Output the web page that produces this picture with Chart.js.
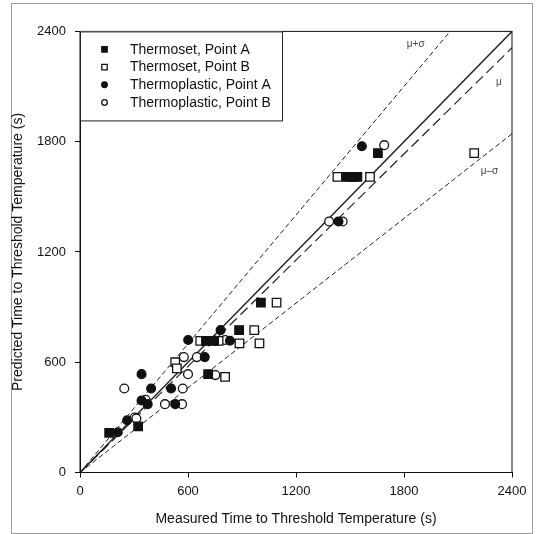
<!DOCTYPE html>
<html>
<head>
<meta charset="utf-8">
<script src="https://cdn.jsdelivr.net/npm/chart.js@4/dist/chart.umd.min.js"></script>
<style>
  html, body { margin: 0; padding: 0; background: #fff; }
  #wrap { width: 537px; height: 534px; position: relative; }
</style>
</head>
<body>
<div id="wrap"><canvas id="chart"></canvas></div>
<script>
// measured vs predicted times (s)
const tsetAx = [162, 323, 700, 745, 712, 884, 1005, 1483, 1512, 1541, 1655];
const tsetAy = [216, 251, 716, 716, 535, 775, 924, 1608, 1608, 1608, 1738];

const tsetBx = [529, 538, 668, 770, 806, 886, 968, 997, 1092, 1430, 1611, 2190];
const tsetBy = [600, 567, 716, 716, 520, 703, 775, 703, 924, 1608, 1608, 1738];

const tplAx = [210, 262, 342, 376, 342, 395, 506, 529, 601, 693, 781, 833, 1436, 1566];
const tplAy = [219, 284, 392, 372, 535, 457, 457, 372, 721, 628, 775, 717, 1366, 1775];

const tplBx = [246, 304, 313, 365, 472, 567, 571, 600, 577, 649, 752, 748, 806, 1384, 1459, 1690];
const tplBy = [457, 299, 294, 396, 372, 372, 457, 535, 628, 628, 530, 718, 721, 1366, 1366, 1781];

// reference lines: y = x, mean fit, mean +/- sigma
const refX = [0, 2400], refY = [0, 2400];
const muX = [0, 2400], muY = [0, 2311];
const upX = [0, 2056], upY = [0, 2400];
const loX = [0, 2400], loY = [0, 1843];

const lineLabels = ['\u03bc+\u03c3', '\u03bc', '\u03bc\u2013\u03c3'];
const lineLabelX = [1865, 2327, 2275];
const lineLabelY = [2329, 2124, 1641];

const xTicks = [0, 600, 1200, 1800, 2400];
const yTicks = [0, 600, 1200, 1800, 2400];

const seriesNames = ['Thermoset, Point A', 'Thermoset, Point B', 'Thermoplastic, Point A', 'Thermoplastic, Point B'];

const pts = (xs, ys) => xs.map((x, i) => ({ x: x, y: ys[i] }));
const FONT = "'Liberation Sans', Arial, sans-serif";

function marker(ctx, style, filled, x, y, r) {
    ctx.save();
    ctx.beginPath();
    if (style === 'rect') ctx.rect(x - r, y - r, 2 * r, 2 * r);
    else ctx.arc(x, y, r, 0, Math.PI * 2);
    ctx.fillStyle = filled ? '#111' : '#fff';
    ctx.fill();
    ctx.lineWidth = 1.3;
    ctx.strokeStyle = '#111';
    ctx.stroke();
    ctx.restore();
}

const decor = {
    id: 'decor',
    beforeDraw(chart) {
        const ctx = chart.ctx;
        ctx.save();
        ctx.strokeStyle = '#999';
        ctx.lineWidth = 1;
        ctx.strokeRect(11.5, 3.5, 521, 530);
        ctx.restore();
    },
    afterDraw(chart) {
        const ctx = chart.ctx, a = chart.chartArea;
        const xs = chart.scales.x, ys = chart.scales.y;
        ctx.save();
        // plot box
        ctx.strokeStyle = '#111';
        ctx.lineWidth = 1;
        ctx.strokeRect(a.left, a.top, a.right - a.left, a.bottom - a.top);

        // line labels
        ctx.fillStyle = '#444';
        ctx.font = '10px ' + FONT;
        ctx.textAlign = 'center';
        ctx.textBaseline = 'middle';
        lineLabels.forEach((t, i) => {
            ctx.fillText(t, xs.getPixelForValue(lineLabelX[i]), ys.getPixelForValue(lineLabelY[i]));
        });

        // legend box
        const lx = a.left, ly = a.top, lw = 202, lh = 89;
        ctx.fillStyle = '#fff';
        ctx.fillRect(lx, ly, lw, lh);
        ctx.strokeStyle = '#222';
        ctx.strokeRect(lx + 0.5, ly + 0.5, lw, lh);
        const styles = [['rect', true], ['rect', false], ['circle', true], ['circle', false]];
        ctx.font = '14px ' + FONT;
        ctx.textAlign = 'left';
        ctx.fillStyle = '#111';
        seriesNames.forEach((n, i) => {
            const yy = ly + 18 + i * 17.7;
            marker(ctx, styles[i][0], styles[i][1], lx + 24.5, yy, styles[i][0] === 'rect' ? 2.7 : 2.8);
            ctx.fillStyle = '#111';
            ctx.fillText(n, lx + 50, yy + 0.5);
        });
        ctx.restore();
    }
};

const lineDs = (xs, ys, dash, w) => ({
    type: 'line', data: pts(xs, ys), borderColor: '#222', borderWidth: w,
    borderDash: dash, pointRadius: 0, fill: false, order: 5
});
const ptDs = (name, xs, ys, style, filled, r) => ({
    label: name, data: pts(xs, ys), pointStyle: style, pointRadius: r, pointHoverRadius: r,
    backgroundColor: filled ? '#111' : '#fff', borderColor: '#111', borderWidth: 1.3, order: 1
});

new Chart(document.getElementById('chart'), {
    type: 'scatter',
    data: {
        datasets: [
            lineDs(refX, refY, [], 1.4),
            lineDs(muX, muY, [10, 5], 1.2),
            lineDs(upX, upY, [5, 3], 1),
            lineDs(loX, loY, [5, 3], 1),
            ptDs(seriesNames[0], tsetAx, tsetAy, 'rect', true, 6),
            ptDs(seriesNames[1], tsetBx, tsetBy, 'rect', false, 6),
            ptDs(seriesNames[2], tplAx, tplAy, 'circle', true, 4.4),
            ptDs(seriesNames[3], tplBx, tplBy, 'circle', false, 4.4)
        ]
    },
    options: {
        responsive: true, maintainAspectRatio: false, animation: false,
        layout: { padding: { top: 31.4, right: 25, left: 0, bottom: 0 } },
        plugins: { legend: { display: false }, tooltip: { enabled: false } },
        scales: {
            x: {
                type: 'linear', min: 0, max: 2400,
                afterFit: (s) => { s.height = 61.5; },
                afterBuildTicks: (s) => { s.ticks = xTicks.map(v => ({ value: v })); },
                grid: { drawOnChartArea: false, drawTicks: true, tickLength: 5, color: '#111' },
                border: { display: true, color: '#111' },
                ticks: { color: '#111', padding: 6, font: { family: FONT, size: 13 }, maxRotation: 0,
                         callback: (v) => String(v) },
                title: { display: true, text: 'Measured Time to Threshold Temperature (s)', color: '#111',
                         font: { family: FONT, size: 14 }, padding: { top: 0, bottom: 6.6 } }
            },
            y: {
                type: 'linear', min: 0, max: 2400,
                afterFit: (s) => { s.width = 80; },
                afterBuildTicks: (s) => { s.ticks = yTicks.map(v => ({ value: v })); },
                grid: { drawOnChartArea: false, drawTicks: true, tickLength: 5, color: '#111' },
                border: { display: true, color: '#111' },
                ticks: { color: '#111', padding: 9, font: { family: FONT, size: 13 },
                         callback: (v) => String(v) },
                title: { display: true, text: 'Predicted Time to Threshold Temperature (s)', color: '#111',
                         font: { family: FONT, size: 14 }, padding: { top: 9.5, bottom: 0 } }
            }
        }
    },
    plugins: [decor]
});
</script>
</body>
</html>
